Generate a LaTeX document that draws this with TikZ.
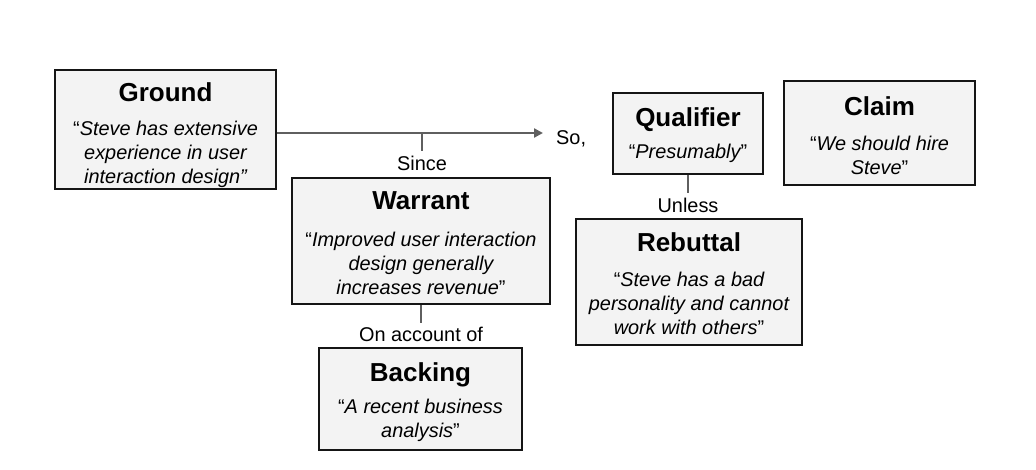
\documentclass[tikz,border=0pt]{standalone}
\usepackage{fontspec}
\setmainfont{Liberation Sans}
\usetikzlibrary{arrows.meta}
\definecolor{boxfill}{HTML}{F3F3F3}
\definecolor{boxline}{HTML}{151515}
\definecolor{connc}{HTML}{5F5F5F}
\tikzset{
  box/.style={draw=boxline, line width=2.8bp, fill=boxfill, inner sep=0pt},
  ttl/.style={font=\fontsize{26bp}{30bp}\selectfont\bfseries, inner sep=0pt, anchor=base},
  bdy/.style={font=\fontsize{19.9bp}{24bp}\selectfont, align=center, inner sep=0pt},
  lbl/.style={font=\fontsize{19.9bp}{24bp}\selectfont, inner sep=0pt},
  conn/.style={draw=connc, line width=2.8bp},
}
\begin{document}
\begin{tikzpicture}[x=1bp,y=-1bp]
\useasboundingbox (0,0) rectangle (1036,470);
% boxes
\node[box, minimum width=221bp, minimum height=119bp] (ground) at (165.5,129.5) {};
\node[box, minimum width=258bp, minimum height=126bp] (warrant) at (421,241) {};
\node[box, minimum width=203bp, minimum height=102bp] (backing) at (420.5,399) {};
\node[box, minimum width=150bp, minimum height=81bp] (qualifier) at (688,133.5) {};
\node[box, minimum width=191bp, minimum height=104bp] (claim) at (879.5,133) {};
\node[box, minimum width=226bp, minimum height=126bp] (rebuttal) at (689,282) {};
% titles
\node[ttl] (groundT) at (165.5,102) {Ground};
\node[ttl] (warrantT) at (421,210) {Warrant};
\node[ttl] (backingT) at (420.5,382) {Backing};
\node[ttl] (qualifierT) at (688,127) {Qualifier};
\node[ttl] (claimT) at (879.5,116) {Claim};
\node[ttl] (rebuttalT) at (689,252) {Rebuttal};
% bodies
\node[bdy] (groundB) at (165.5,154) {“{\itshape Steve has extensive}\\{\itshape experience in user}\\{\itshape interaction design”}};
\node[bdy] (warrantB) at (421,263) {“{\itshape Improved user interaction}\\{\itshape design generally}\\{\itshape increases revenue}”};
\node[bdy] (backingB) at (420.5,420) {“{\itshape A recent business}\\{\itshape analysis}”};
\node[bdy] (qualifierB) at (688,153) {“{\itshape Presumably}”};
\node[bdy] (claimB) at (879.5,155) {“{\itshape We should hire}\\{\itshape Steve}”};
\node[bdy] (rebuttalB) at (689,303) {“{\itshape Steve has a bad}\\{\itshape personality and cannot}\\{\itshape work with others}”};
% labels
\node[lbl, anchor=west] (so) at (556,139) {So,};
\node[lbl] (since) at (422,163) {Since};
\node[lbl] (unless) at (688,205) {Unless};
\node[lbl] (account) at (421,334) {On account of};
% connectors
\coordinate (arrowEnd) at (543,133);
\coordinate (sinceJoin) at (422,133);
\draw[conn, -{Triangle[length=9bp,width=9bp]}] (ground.east |- arrowEnd) -- (arrowEnd);
\draw[conn] (sinceJoin) -- ([yshift=4bp]since.north);
\draw[conn] (qualifier.south) -- ([yshift=4bp]unless.north);
\draw[conn] (warrant.south) -- ([yshift=4bp]account.north);
\end{tikzpicture}
\end{document}
